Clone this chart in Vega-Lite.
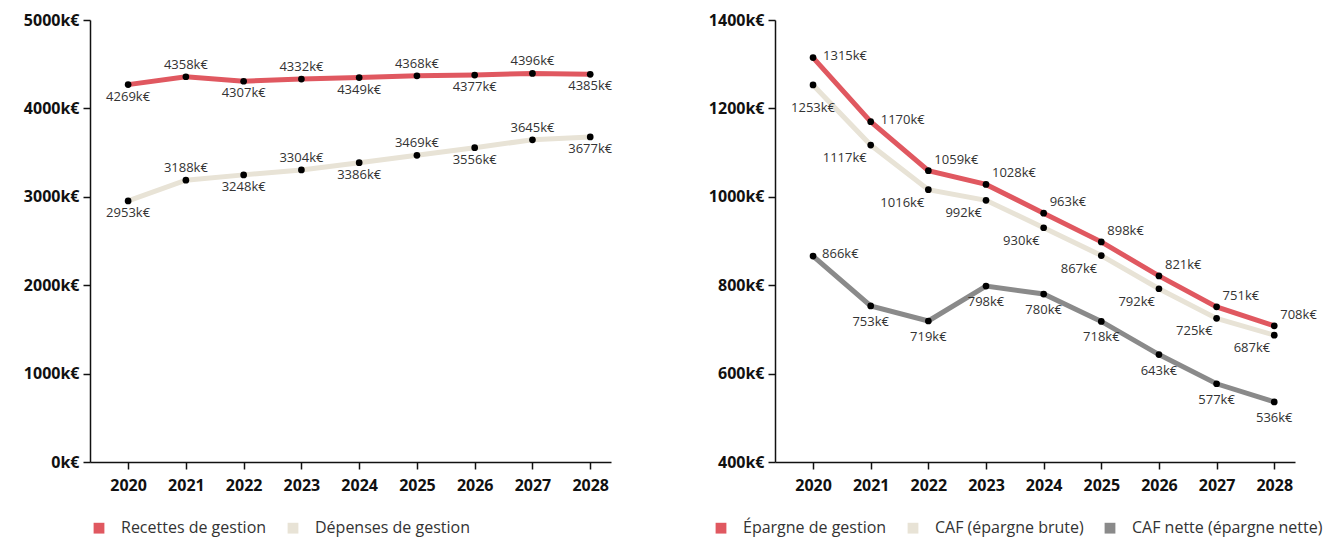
{
  "$schema": "https://vega.github.io/schema/vega-lite/v6.json",
  "background": "white",
  "padding": {"left": 23, "top": 12, "right": 5, "bottom": 5},
  "spacing": 95,
  "resolve": {"scale": {"color": "independent"}, "legend": {"color": "independent"}},
  "config": {
    "view": {"stroke": null},
    "font": "Open Sans",
    "axis": {
      "domainColor": "#111", "tickColor": "#111", "domainWidth": 1.5, "tickWidth": 1.5,
      "labelFont": "Open Sans", "labelFontWeight": "bold", "labelFontSize": 16, "labelColor": "#111",
      "grid": false, "title": null, "tickSize": 7
    },
    "legend": {
      "labelFont": "Open Sans", "labelLimit": 400,
      "labelFontSize": 16, "labelColor": "#333", "symbolType": "square", "symbolSize": 28,
      "symbolStrokeWidth": 5.5, "columnPadding": 12, "labelOffset": 14, "title": null
    }
  },
  "datasets": {
    "left": [
      {"year": 2020, "serie": "Recettes de gestion", "value": 4269},
      {"year": 2021, "serie": "Recettes de gestion", "value": 4358},
      {"year": 2022, "serie": "Recettes de gestion", "value": 4307},
      {"year": 2023, "serie": "Recettes de gestion", "value": 4332},
      {"year": 2024, "serie": "Recettes de gestion", "value": 4349},
      {"year": 2025, "serie": "Recettes de gestion", "value": 4368},
      {"year": 2026, "serie": "Recettes de gestion", "value": 4377},
      {"year": 2027, "serie": "Recettes de gestion", "value": 4396},
      {"year": 2028, "serie": "Recettes de gestion", "value": 4385},
      {"year": 2020, "serie": "Dépenses de gestion", "value": 2953},
      {"year": 2021, "serie": "Dépenses de gestion", "value": 3188},
      {"year": 2022, "serie": "Dépenses de gestion", "value": 3248},
      {"year": 2023, "serie": "Dépenses de gestion", "value": 3304},
      {"year": 2024, "serie": "Dépenses de gestion", "value": 3386},
      {"year": 2025, "serie": "Dépenses de gestion", "value": 3469},
      {"year": 2026, "serie": "Dépenses de gestion", "value": 3556},
      {"year": 2027, "serie": "Dépenses de gestion", "value": 3645},
      {"year": 2028, "serie": "Dépenses de gestion", "value": 3677}
    ],
    "right": [
      {"year": 2020, "serie": "CAF nette (épargne nette)", "value": 866},
      {"year": 2021, "serie": "CAF nette (épargne nette)", "value": 753},
      {"year": 2022, "serie": "CAF nette (épargne nette)", "value": 719},
      {"year": 2023, "serie": "CAF nette (épargne nette)", "value": 798},
      {"year": 2024, "serie": "CAF nette (épargne nette)", "value": 780},
      {"year": 2025, "serie": "CAF nette (épargne nette)", "value": 718},
      {"year": 2026, "serie": "CAF nette (épargne nette)", "value": 643},
      {"year": 2027, "serie": "CAF nette (épargne nette)", "value": 577},
      {"year": 2028, "serie": "CAF nette (épargne nette)", "value": 536},
      {"year": 2020, "serie": "CAF (épargne brute)", "value": 1253},
      {"year": 2021, "serie": "CAF (épargne brute)", "value": 1117},
      {"year": 2022, "serie": "CAF (épargne brute)", "value": 1016},
      {"year": 2023, "serie": "CAF (épargne brute)", "value": 992},
      {"year": 2024, "serie": "CAF (épargne brute)", "value": 930},
      {"year": 2025, "serie": "CAF (épargne brute)", "value": 867},
      {"year": 2026, "serie": "CAF (épargne brute)", "value": 792},
      {"year": 2027, "serie": "CAF (épargne brute)", "value": 725},
      {"year": 2028, "serie": "CAF (épargne brute)", "value": 687},
      {"year": 2020, "serie": "Épargne de gestion", "value": 1315},
      {"year": 2021, "serie": "Épargne de gestion", "value": 1170},
      {"year": 2022, "serie": "Épargne de gestion", "value": 1059},
      {"year": 2023, "serie": "Épargne de gestion", "value": 1028},
      {"year": 2024, "serie": "Épargne de gestion", "value": 963},
      {"year": 2025, "serie": "Épargne de gestion", "value": 898},
      {"year": 2026, "serie": "Épargne de gestion", "value": 821},
      {"year": 2027, "serie": "Épargne de gestion", "value": 751},
      {"year": 2028, "serie": "Épargne de gestion", "value": 708}
    ]
  },
  "hconcat": [
    {
      "width": 521, "height": 442,
      "data": {"name": "left"},
      "encoding": {
        "x": {"field": "year", "type": "quantitative",
          "scale": {"domain": [2019.34, 2028.36], "nice": false, "zero": false},
          "axis": {"values": [2020, 2021, 2022, 2023, 2024, 2025, 2026, 2027, 2028], "format": "d", "labelPadding": 8, "labelFlush": false}},
        "y": {"field": "value", "type": "quantitative",
          "scale": {"domain": [0, 5000], "nice": false},
          "axis": {"values": [0, 1000, 2000, 3000, 4000, 5000], "labelExpr": "datum.value + 'k€'", "labelPadding": 4}}
      },
      "layer": [
        {"mark": {"type": "line", "strokeWidth": 5},
         "encoding": {"color": {"field": "serie", "type": "nominal",
           "scale": {"domain": ["Recettes de gestion", "Dépenses de gestion"], "range": ["#e05860", "#e8e3d6"]},
           "legend": {"orient": "none", "legendX": 1, "legendY": 500, "direction": "horizontal"}}}},
        {"mark": {"type": "circle", "size": 45, "color": "#000", "opacity": 1}},
        {"transform": [{"filter": "datum.year % 2 == 1"}],
         "mark": {"type": "text", "baseline": "bottom", "dy": -5, "fontSize": 13, "color": "#333", "text": {"expr": "datum.value + 'k€'"}}},
        {"transform": [{"filter": "datum.year % 2 == 0"}],
         "mark": {"type": "text", "baseline": "top", "dy": 6, "fontSize": 13, "color": "#333", "text": {"expr": "datum.value + 'k€'"}}}
      ]
    },
    {
      "width": 520, "height": 442,
      "data": {"name": "right"},
      "encoding": {
        "x": {"field": "year", "type": "quantitative",
          "scale": {"domain": [2019.34, 2028.36], "nice": false, "zero": false},
          "axis": {"values": [2020, 2021, 2022, 2023, 2024, 2025, 2026, 2027, 2028], "format": "d", "labelPadding": 8, "labelFlush": false}},
        "y": {"field": "value", "type": "quantitative",
          "scale": {"domain": [400, 1400], "nice": false, "zero": false},
          "axis": {"values": [400, 600, 800, 1000, 1200, 1400], "labelExpr": "datum.value + 'k€'", "labelPadding": 4}}
      },
      "layer": [
        {"mark": {"type": "line", "strokeWidth": 5},
         "encoding": {"color": {"field": "serie", "type": "nominal",
           "scale": {"domain": ["Épargne de gestion", "CAF (épargne brute)", "CAF nette (épargne nette)"], "range": ["#e05860", "#e8e3d6", "#8a8a8a"]},
           "legend": {"orient": "none", "legendX": -62, "legendY": 500, "direction": "horizontal"}}}},
        {"mark": {"type": "circle", "size": 45, "color": "#000", "opacity": 1}},
        {"transform": [{"filter": "datum.serie == 'Épargne de gestion' && datum.year > 2021"}],
         "mark": {"type": "text", "align": "left", "baseline": "middle", "dx": 6, "dy": -11, "fontSize": 13, "color": "#333", "text": {"expr": "datum.value + 'k€'"}}},
        {"transform": [{"filter": "datum.serie == 'Épargne de gestion' && datum.year <= 2021"}],
         "mark": {"type": "text", "align": "left", "baseline": "middle", "dx": 10, "dy": -2, "fontSize": 13, "color": "#333", "text": {"expr": "datum.value + 'k€'"}}},
        {"transform": [{"filter": "datum.serie == 'CAF (épargne brute)' && datum.year > 2020"}],
         "mark": {"type": "text", "align": "right", "baseline": "middle", "dx": -4, "dy": 13, "fontSize": 13, "color": "#333", "text": {"expr": "datum.value + 'k€'"}}},
        {"transform": [{"filter": "datum.serie == 'CAF (épargne brute)' && datum.year == 2020"}],
         "mark": {"type": "text", "align": "center", "baseline": "middle", "dx": 0, "dy": 23, "fontSize": 13, "color": "#333", "text": {"expr": "datum.value + 'k€'"}}},
        {"transform": [{"filter": "datum.serie == 'CAF nette (épargne nette)' && datum.year > 2020"}],
         "mark": {"type": "text", "align": "center", "baseline": "middle", "dy": 16, "fontSize": 13, "color": "#333", "text": {"expr": "datum.value + 'k€'"}}},
        {"transform": [{"filter": "datum.serie == 'CAF nette (épargne nette)' && datum.year == 2020"}],
         "mark": {"type": "text", "align": "left", "baseline": "middle", "dx": 9, "dy": -2, "fontSize": 13, "color": "#333", "text": {"expr": "datum.value + 'k€'"}}}
      ]
    }
  ]
}
